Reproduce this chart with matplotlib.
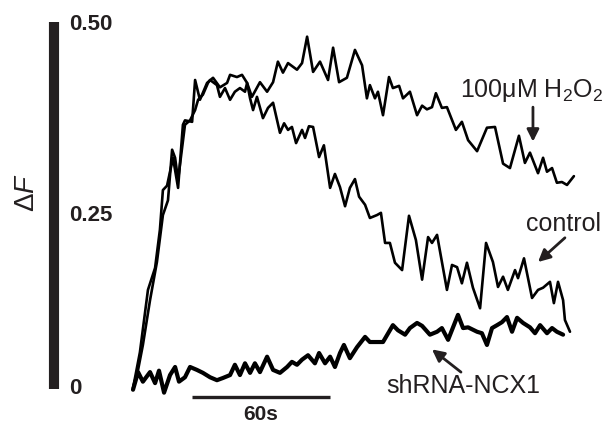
import matplotlib
matplotlib.use('Agg')
from matplotlib import pyplot as plt

plt.rcParams['font.family'] = ['Liberation Sans', 'DejaVu Sans']
plt.rcParams['mathtext.fontset'] = 'custom'
plt.rcParams['mathtext.rm'] = 'Liberation Sans'
plt.rcParams['mathtext.it'] = 'Liberation Sans:italic'

# time in seconds, values in dF
h2o2_t = [0, 3.0, 6.5, 9.6, 11.7, 13.0, 14.8, 17.4, 19.6, 21.7, 22.6, 25.7,
          27.0, 29.1, 32.2, 34.8, 37.8, 40.9, 42.2, 45.2, 47.4, 49.6, 51.7,
          55.2, 58.3, 60.9, 63.0, 65.2, 67.4, 71.3, 73.5, 75.7, 78.3, 81.3,
          84.8, 87.0, 89.6, 93.0, 96.5, 99.6, 101.7, 103.0, 105.2, 106.5,
          108.7, 111.3, 113.0, 115.7, 117.4, 120.4, 123.5, 125.7, 127.8,
          130.0, 131.7, 134.3, 136.5, 140.4, 143.0, 145.7, 149.6, 153.9,
          157.4, 160.9, 163.9, 167.8, 170.4, 172.6, 176.1, 178.3, 180.0,
          182.2, 184.3, 186.5, 188.7, 191.7]
h2o2_v = [0.001, 0.050, 0.135, 0.165, 0.217, 0.271, 0.277, 0.315, 0.274,
          0.360, 0.366, 0.364, 0.421, 0.394, 0.417, 0.424, 0.411, 0.417,
          0.428, 0.425, 0.428, 0.417, 0.398, 0.418, 0.405, 0.418, 0.446,
          0.431, 0.444, 0.435, 0.444, 0.480, 0.432, 0.446, 0.421, 0.465,
          0.418, 0.424, 0.462, 0.441, 0.396, 0.414, 0.396, 0.405, 0.373,
          0.425, 0.410, 0.413, 0.396, 0.405, 0.373, 0.386, 0.381, 0.384,
          0.403, 0.383, 0.384, 0.353, 0.364, 0.339, 0.324, 0.356, 0.357,
          0.307, 0.301, 0.345, 0.308, 0.322, 0.294, 0.315, 0.296, 0.301,
          0.281, 0.282, 0.278, 0.290]

control_t = [0, 2.2, 4.3, 7.4, 10.4, 13.0, 15.2, 17.0, 18.3, 19.6, 22.6,
             24.8, 27.0, 28.3, 30.4, 32.6, 33.5, 36.5, 37.8, 40.0, 42.2,
             44.3, 46.5, 48.7, 49.6, 50.9, 52.2, 53.9, 56.5, 58.7, 60.9,
             63.9, 65.7, 67.4, 69.1, 70.9, 73.5, 74.8, 76.5, 78.3, 80.9,
             83.0, 85.7, 87.8, 90.0, 92.2, 94.3, 96.5, 98.3, 100.9, 103.0,
             106.1, 107.8, 109.6, 111.7, 113.9, 117.0, 120.0, 123.0, 125.7,
             128.3, 130.0, 132.2, 136.5, 138.7, 140.9, 143.0, 145.2, 147.8,
             150.9, 153.5, 156.5, 158.7, 160.9, 163.0, 166.1, 167.4, 170.0,
             173.5, 176.1, 178.3, 181.3, 183.0, 184.8, 187.0, 187.8, 190.0]
control_v = [0.001, 0.026, 0.060, 0.121, 0.173, 0.237, 0.257, 0.326, 0.315,
             0.285, 0.360, 0.366, 0.380, 0.394, 0.401, 0.417, 0.421, 0.414,
             0.398, 0.410, 0.394, 0.405, 0.410, 0.405, 0.417, 0.396, 0.380,
             0.398, 0.369, 0.383, 0.390, 0.349, 0.362, 0.353, 0.357, 0.335,
             0.353, 0.342, 0.358, 0.357, 0.316, 0.332, 0.274, 0.293, 0.275,
             0.249, 0.274, 0.286, 0.262, 0.251, 0.233, 0.237, 0.240, 0.199,
             0.199, 0.172, 0.162, 0.236, 0.203, 0.149, 0.207, 0.199, 0.210,
             0.135, 0.169, 0.166, 0.144, 0.172, 0.138, 0.110, 0.199, 0.173,
             0.139, 0.153, 0.135, 0.162, 0.151, 0.178, 0.124, 0.135, 0.138,
             0.146, 0.117, 0.146, 0.121, 0.094, 0.078]

shrna_t = [0, 2.2, 4.3, 7.4, 9.6, 11.3, 13.5, 16.1, 18.3, 20.0, 22.6, 24.8,
           27.8, 30.4, 33.5, 36.5, 39.1, 42.2, 44.3, 46.5, 48.7, 50.9, 53.0,
           55.2, 58.3, 60.9, 63.9, 67.0, 69.1, 71.3, 73.5, 76.1, 79.1, 80.9,
           83.5, 85.7, 87.8, 90.0, 91.7, 94.3, 97.4, 100.9, 103.0, 108.7,
           113.0, 115.2, 118.3, 120.4, 123.5, 125.7, 129.1, 132.2, 134.3,
           137.0, 141.3, 143.5, 145.7, 149.6, 151.7, 153.9, 156.1, 158.3,
           160.4, 162.6, 164.8, 167.0, 169.6, 172.6, 174.8, 177.0, 180.0,
           182.2, 184.3, 187.0]
shrna_v = [-0.001, 0.023, 0.010, 0.023, 0.008, 0.025, -0.005, 0.019, 0.030,
           0.010, 0.016, 0.030, 0.026, 0.022, 0.016, 0.012, 0.015, 0.019,
           0.033, 0.019, 0.035, 0.022, 0.035, 0.023, 0.044, 0.026, 0.022,
           0.030, 0.037, 0.033, 0.040, 0.046, 0.035, 0.049, 0.035, 0.044,
           0.030, 0.049, 0.060, 0.042, 0.057, 0.071, 0.064, 0.064, 0.087,
           0.080, 0.074, 0.083, 0.090, 0.086, 0.074, 0.078, 0.083, 0.067,
           0.101, 0.083, 0.084, 0.078, 0.076, 0.060, 0.083, 0.087, 0.091,
           0.098, 0.078, 0.097, 0.090, 0.084, 0.076, 0.087, 0.076, 0.083,
           0.078, 0.074]

tick_values = [0.5, 0.25, 0]
tick_labels = ['0.50', '0.25', '0']
scale_len = 60  # seconds

ink = '#231f20'

fig = plt.figure(figsize=(6.08, 4.25), dpi=100)
ax = fig.add_axes([54 / 608, 36 / 425, 536 / 608, 367 / 425])
ax.set_xlim(-34.35, 198.7)
ax.set_ylim(0, 0.5)

# traces
line_kw = dict(color='black', clip_on=False, solid_joinstyle='round',
               solid_capstyle='round')
ax.plot(h2o2_t, h2o2_v, lw=1.9, **line_kw)
ax.plot(control_t, control_v, lw=1.9, **line_kw)
ax.plot(shrna_t, shrna_v, lw=3.0, **line_kw)

# axis: only a thick bar on the left
for s in ['top', 'right', 'bottom']:
    ax.spines[s].set_visible(False)
ax.spines['left'].set_linewidth(7.3)
ax.spines['left'].set_color(ink)
ax.spines['left'].set_capstyle('butt')
ax.set_xticks([])
ax.set_yticks([])

# tick labels next to the bar
nudges = [-1.5, -7, 0.5]
for val, lab, dy in zip(tick_values, tick_labels, nudges):
    ax.annotate(lab, xy=(0, val), xycoords=('axes fraction', 'data'),
                xytext=(11, dy), textcoords='offset points',
                ha='left', va='center', fontsize=16, fontweight='bold',
                color=ink, annotation_clip=False)

fig.text(27 / 608, 1 - 193 / 425, r'$\mathrm{\Delta}\mathit{F}$',
         rotation=90, ha='center', va='center', fontsize=20, color=ink)

# 60 s scale bar
ax.plot([25.7, 25.7 + scale_len], [-0.011, -0.011], color=ink, lw=2.4,
        solid_capstyle='butt', clip_on=False)
ax.text(25.7 + scale_len / 2, -0.035, f'{scale_len}s', ha='center',
        va='center', fontsize=15, fontweight='bold', color=ink)

# labels and arrows
arrow = dict(arrowstyle='-|>', lw=2.0, color=ink, mutation_scale=18,
             shrinkA=0, shrinkB=0)
ax.text(142.2, 0.406, '100\u03bcM H$_\\mathregular{2}$O$_\\mathregular{2}$',
        ha='left', va='center', fontsize=18, color=ink)
ax.annotate('', xy=(173.9, 0.337), xytext=(173.9, 0.384), arrowprops=arrow,
            annotation_clip=False)
ax.text(187.0, 0.225, 'control', ha='center', va='center', fontsize=18,
        color=ink)
ax.annotate('', xy=(176.1, 0.173), xytext=(187.8, 0.206), arrowprops=arrow,
            annotation_clip=False)
ax.text(143.5, 0.004, 'shRNA-NCX1', ha='center', va='center', fontsize=18,
        color=ink)
ax.annotate('', xy=(130.0, 0.054), xytext=(142.6, 0.023), arrowprops=arrow,
            annotation_clip=False)

plt.savefig('out.png', dpi=100)
